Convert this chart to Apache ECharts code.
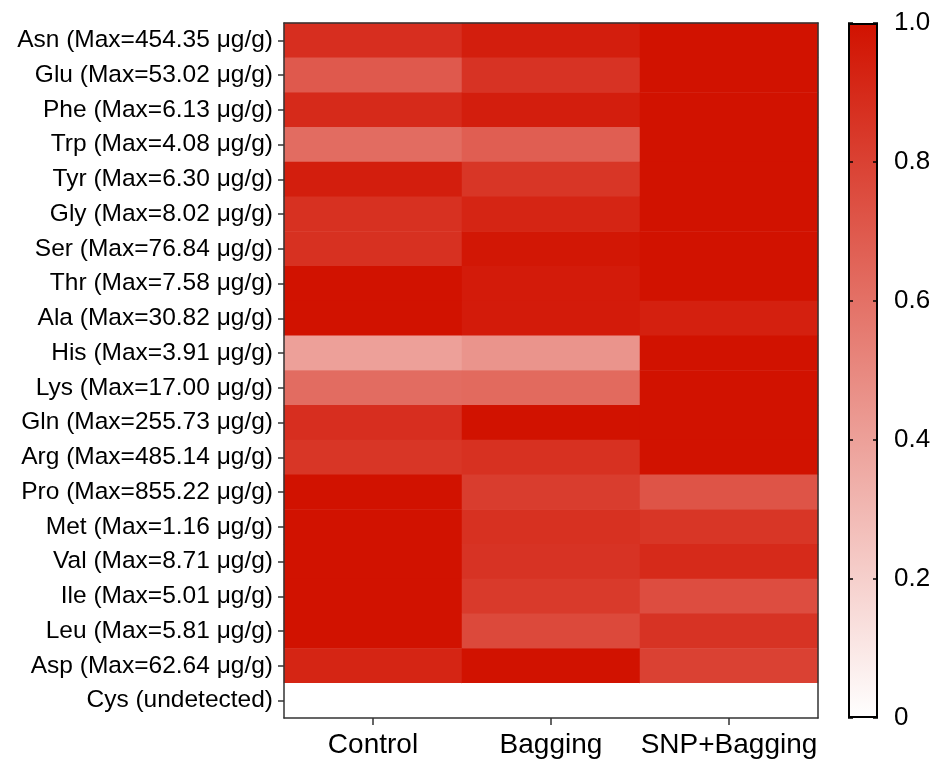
<!DOCTYPE html>
<html>
<head>
<meta charset="utf-8">
<script src="https://cdn.jsdelivr.net/npm/echarts@6/dist/echarts.min.js"></script>
<style>
  html, body { margin: 0; padding: 0; background: #ffffff; }
  #chart { width: 942px; height: 762px; }
</style>
</head>
<body>
<div id="chart"></div>
<script>
// Amino acids, top to bottom
const aminoAcids = ['Asn', 'Glu', 'Phe', 'Trp', 'Tyr', 'Gly', 'Ser', 'Thr', 'Ala', 'His',
                    'Lys', 'Gln', 'Arg', 'Pro', 'Met', 'Val', 'Ile', 'Leu', 'Asp', 'Cys'];
// Maximum content per amino acid (µg/g); null = undetected
const maxContent = ['454.35', '53.02', '6.13', '4.08', '6.30', '8.02', '76.84', '7.58', '30.82', '3.91',
                    '17.00', '255.73', '485.14', '855.22', '1.16', '8.71', '5.01', '5.81', '62.64', null];
const treatments = ['Control', 'Bagging', 'SNP+Bagging'];

// Content relative to each amino acid's maximum
const control    = [0.88, 0.70, 0.90, 0.62, 0.95, 0.87, 0.87, 1.00, 1.00, 0.40,
                    0.62, 0.88, 0.85, 1.00, 1.00, 1.00, 1.00, 1.00, 0.92, 0];
const bagging    = [0.95, 0.86, 0.95, 0.68, 0.85, 0.92, 0.98, 0.96, 0.96, 0.45,
                    0.63, 1.00, 0.87, 0.82, 0.87, 0.86, 0.83, 0.77, 1.00, 0];
const snpBagging = [1.00, 1.00, 1.00, 1.00, 1.00, 1.00, 1.00, 1.00, 0.94, 1.00,
                    1.00, 1.00, 1.00, 0.72, 0.85, 0.90, 0.75, 0.86, 0.80, 0];

const colorbarTicks = [0, 0.2, 0.4, 0.6, 0.8, 1.0];

const RED = '#d11200';
const FONT = 'Liberation Sans, Arial, sans-serif';

const rowLabels = aminoAcids.map((a, i) =>
  maxContent[i] === null ? a + ' (undetected)' : a + ' (Max=' + maxContent[i] + ' μg/g)');

const cells = [];
[control, bagging, snpBagging].forEach((col, x) => {
  col.forEach((v, y) => cells.push([x, y, v]));
});

const chart = echarts.init(document.getElementById('chart'), null, { renderer: 'canvas' });

const edgeAxis = {
  show: true, z: 10,
  axisLine: { show: true, lineStyle: { color: '#333', width: 1.5 } },
  axisTick: { show: false }, axisLabel: { show: false }, splitLine: { show: false }
};

chart.setOption({
  animation: false,
  backgroundColor: '#ffffff',
  grid: [
    { left: 284, top: 23, width: 534, height: 695 },
    { left: 848, top: 23, width: 30, height: 695 }
  ],
  xAxis: [
    {
      type: 'category', gridIndex: 0, data: treatments, position: 'bottom', z: 10,
      axisLine: { show: true, lineStyle: { color: '#333', width: 1.5 } },
      axisTick: { show: true, alignWithLabel: true, length: 7, lineStyle: { color: '#333', width: 1.5 } },
      axisLabel: { color: '#000', fontSize: 28, fontFamily: FONT, margin: 13, interval: 0, hideOverlap: false },
      splitLine: { show: false }
    },
    Object.assign({ type: 'category', gridIndex: 0, data: treatments, position: 'top' }, edgeAxis),
    {
      type: 'category', gridIndex: 1, data: [''], show: false
    }
  ],
  yAxis: [
    {
      type: 'category', gridIndex: 0, data: rowLabels, inverse: true, position: 'left', z: 10,
      axisLine: { show: true, lineStyle: { color: '#333', width: 1.5 } },
      axisTick: { show: true, alignWithLabel: true, length: 6, lineStyle: { color: '#333', width: 1.5 } },
      axisLabel: { color: '#000', fontSize: 24.5, fontFamily: FONT, margin: 11, interval: 0 },
      splitLine: { show: false }
    },
    Object.assign({ type: 'category', gridIndex: 0, data: rowLabels, inverse: true, position: 'right' }, edgeAxis),
    {
      type: 'value', gridIndex: 1, min: 0, max: 1, interval: 0.2, position: 'right', z: 10,
      axisLine: { show: false },
      axisTick: { show: true, inside: true, length: 5, lineStyle: { color: '#000', width: 1.5 } },
      axisLabel: {
        color: '#000', fontSize: 26, fontFamily: FONT, margin: 16,
        formatter: v => (v === 0 ? '0' : v.toFixed(1))
      },
      splitLine: { show: false }
    },
    {
      type: 'value', gridIndex: 1, min: 0, max: 1, interval: 0.2, position: 'left', z: 10,
      axisLine: { show: false },
      axisTick: { show: true, inside: true, length: 5, lineStyle: { color: '#000', width: 1.5 } },
      axisLabel: { show: false },
      splitLine: { show: false }
    }
  ],
  visualMap: {
    show: false, type: 'continuous', seriesIndex: 0,
    min: colorbarTicks[0], max: colorbarTicks[colorbarTicks.length - 1],
    inRange: { color: ['#ffffff', RED] }
  },
  series: [
    {
      type: 'heatmap', xAxisIndex: 0, yAxisIndex: 0, data: cells,
      itemStyle: { borderWidth: 0 },
      emphasis: { disabled: true }
    },
    {
      // colour scale bar
      type: 'bar', xAxisIndex: 2, yAxisIndex: 2, barWidth: '100%', silent: true,
      data: [colorbarTicks[colorbarTicks.length - 1]],
      itemStyle: {
        color: new echarts.graphic.LinearGradient(0, 0, 0, 1, [
          { offset: 0, color: RED }, { offset: 1, color: '#ffffff' }
        ]),
        borderColor: '#000', borderWidth: 2
      }
    }
  ]
});
</script>
</body>
</html>
